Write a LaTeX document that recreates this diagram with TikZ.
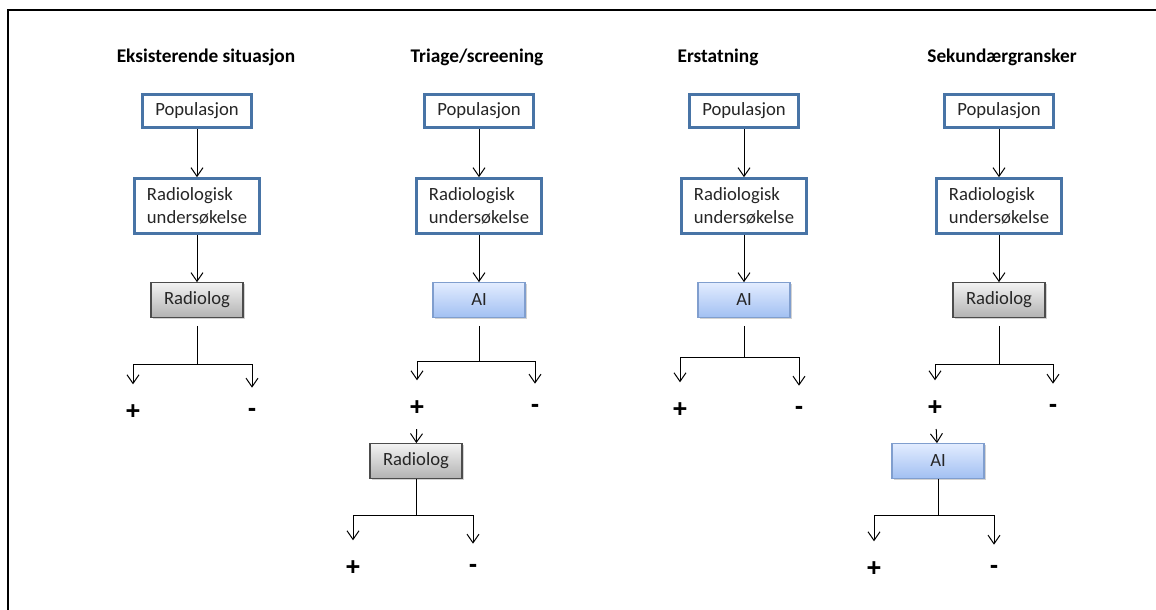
\documentclass[tikz,border=0pt]{standalone}
\usepackage{fontspec}
\setmainfont{Carlito}
\newfontfamily\signfont{Liberation Sans}
\usetikzlibrary{arrows.meta,shadows}
\definecolor{popblue}{RGB}{72,116,166}
\definecolor{aiedge}{RGB}{128,158,206}
\definecolor{aitop}{RGB}{226,236,255}
\definecolor{aibottom}{RGB}{162,192,242}
\begin{document}
\begin{tikzpicture}[x=0.75pt,y=-0.75pt,
    title/.style={font=\fontsize{14.5}{17}\selectfont\bfseries},
    popbox/.style={draw=popblue, line width=2.2pt, fill=white, text=black!85,
        minimum width=82pt, minimum height=25pt, font=\fontsize{14}{17}\selectfont},
    exambox/.style={popbox, minimum width=94pt, minimum height=41pt, align=left},
    radbox/.style={draw=black!70, line width=0.8pt, top color=black!5, bottom color=black!30,
        minimum width=69pt, minimum height=26pt, text=black!85, font=\fontsize{14}{17}\selectfont,
        drop shadow={shadow xshift=1.2pt, shadow yshift=-1.2pt, opacity=0.35}},
    aibox/.style={radbox, draw=aiedge, top color=aitop, bottom color=aibottom},
    sign/.style={inner sep=0pt, font=\signfont\fontsize{19}{21}\selectfont\bfseries},
    arr/.style={line width=0.75pt, -{Straight Barb[length=6.5pt, width=9pt]}},
    branch/.style={arr, shorten >=15pt},
    stem/.style={line width=0.75pt}]
    \useasboundingbox (0,0) rectangle (1156,610);
    \draw[line width=1.5pt] (8,610) -- (8,10) -- (1156,10);

    % Eksisterende situasjon
    \node[title] (t1) at (206,57) {Eksisterende situasjon};
    \node[popbox] (pop1) at (197,111) {Populasjon};
    \node[exambox] (ex1) at (197,206) {Radiologisk\\undersøkelse};
    \node[radbox] (rad1) at (197,300) {Radiolog};
    \coordinate (s1) at (197,364);
    \node[sign] (p1) at (133,412) {+};
    \node[sign] (m1) at (252,412) {-};
    \draw[arr] (pop1) -- (ex1);
    \draw[arr] (ex1) -- (rad1);
    \draw[stem, shorten <=6pt] (rad1.south) -- (s1);
    \draw[branch] (s1) -| (p1);
    \draw[branch] (s1) -| (m1);

    % Triage/screening
    \node[title] (t2) at (477,57) {Triage/screening};
    \node[popbox] (pop2) at (479,111) {Populasjon};
    \node[exambox] (ex2) at (479,206) {Radiologisk\\undersøkelse};
    \node[aibox] (ai2) at (479,300) {AI};
    \coordinate (s2) at (479,361);
    \node[sign] (p2) at (417,408) {+};
    \node[sign] (m2) at (535,408) {-};
    \node[radbox] (rad2) at (416,461) {Radiolog};
    \coordinate (s2b) at (416,515);
    \node[sign] (p2b) at (353,568) {+};
    \node[sign] (m2b) at (473,568) {-};
    \draw[arr] (pop2) -- (ex2);
    \draw[arr] (ex2) -- (ai2);
    \draw[stem, shorten <=6pt] (ai2.south) -- (s2);
    \draw[branch] (s2) -| (p2);
    \draw[branch] (s2) -| (m2);
    \draw[arr, shorten <=10pt] (p2) -- (rad2);
    \draw[stem] (rad2.south) -- (s2b);
    \draw[branch] (s2b) -| (p2b);
    \draw[branch] (s2b) -| (m2b);

    % Erstatning
    \node[title] (t3) at (718,57) {Erstatning};
    \node[popbox] (pop3) at (744,111) {Populasjon};
    \node[exambox] (ex3) at (744,206) {Radiologisk\\undersøkelse};
    \node[aibox] (ai3) at (744,300) {AI};
    \coordinate (s3) at (744,357);
    \node[sign] (p3) at (680,410) {+};
    \node[sign] (m3) at (799,410) {-};
    \draw[arr] (pop3) -- (ex3);
    \draw[arr] (ex3) -- (ai3);
    \draw[stem, shorten <=6pt] (ai3.south) -- (s3);
    \draw[branch] (s3) -| (p3);
    \draw[branch] (s3) -| (m3);

    % Sekundærgransker
    \node[title] (t4) at (1002,57) {Sekundærgransker};
    \node[popbox] (pop4) at (999,111) {Populasjon};
    \node[exambox] (ex4) at (999,206) {Radiologisk\\undersøkelse};
    \node[radbox] (rad4) at (999,300) {Radiolog};
    \coordinate (s4) at (999,364);
    \node[sign] (p4) at (935,408) {+};
    \node[sign] (m4) at (1053,408) {-};
    \node[aibox] (ai4) at (938,461) {AI};
    \coordinate (s4b) at (938,515);
    \node[sign] (p4b) at (874,569) {+};
    \node[sign] (m4b) at (994,569) {-};
    \draw[arr] (pop4) -- (ex4);
    \draw[arr] (ex4) -- (rad4);
    \draw[stem, shorten <=6pt] (rad4.south) -- (s4);
    \draw[branch] (s4) -| (p4);
    \draw[branch] (s4) -| (m4);
    \draw[arr, shorten <=10pt] (p4) -- (ai4);
    \draw[stem] (ai4.south) -- (s4b);
    \draw[branch] (s4b) -| (p4b);
    \draw[branch] (s4b) -| (m4b);
\end{tikzpicture}
\end{document}
